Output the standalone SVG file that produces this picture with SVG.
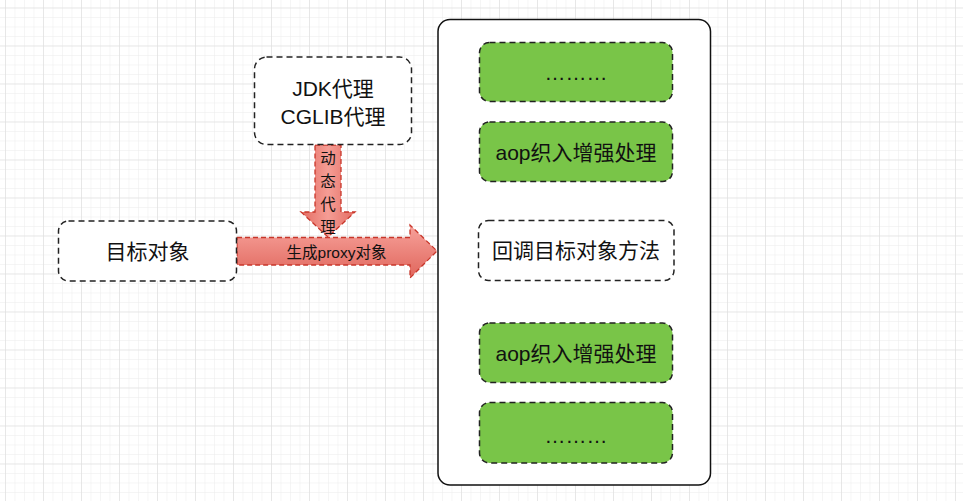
<svg xmlns="http://www.w3.org/2000/svg" width="963" height="501" viewBox="0 0 963 501">
<defs>
<pattern id="minor" x="5" y="7.5" width="9.5" height="9.5" patternUnits="userSpaceOnUse">
<path d="M0 0H9.5M0 0V9.5" fill="none" stroke="#ececec" stroke-width="1"/>
</pattern>
<pattern id="major" x="5" y="7.5" width="38" height="38" patternUnits="userSpaceOnUse">
<path d="M0 0H38M0 0V38" fill="none" stroke="#dadada" stroke-width="1"/>
</pattern>
<linearGradient id="redV" x1="0" y1="0" x2="1" y2="0">
<stop offset="0" stop-color="#e46c62"/>
<stop offset="0.5" stop-color="#f59d95"/>
<stop offset="1" stop-color="#e46c62"/>
</linearGradient>
<linearGradient id="redH" x1="0" y1="0" x2="0" y2="1">
<stop offset="0" stop-color="#f7a29b"/>
<stop offset="1" stop-color="#e0665c"/>
</linearGradient>
</defs>
<style>
.t{font-family:"Liberation Sans","Noto Sans CJK SC",sans-serif;fill:#111;text-anchor:middle;dominant-baseline:central}
.big{font-size:21px}
.small{font-size:15.5px}
.box{fill:#fff;stroke:#222;stroke-width:1.5;stroke-dasharray:6 4}
.green{fill:#79c548;stroke:#222;stroke-width:1.5;stroke-dasharray:6 4}
.arrow{stroke:#c8362a;stroke-width:1.3;stroke-dasharray:5 3}
</style>
<rect width="963" height="501" fill="#fff"/>
<rect width="963" height="501" fill="url(#minor)"/>
<rect width="963" height="501" fill="url(#major)"/>

<g id="container">
<rect x="438" y="19.5" width="272.5" height="465.5" rx="12" fill="#fff" stroke="#111" stroke-width="1.5"/>
</g>

<g id="connectors">
<path class="arrow" fill="url(#redV)" d="M315 145 H341 V212 H355 L328 237 L301 212 H315 Z"/>
<path class="arrow" fill="url(#redH)" d="M237 237.5 H410 V225 L437 251 L410 278 V265 H237 Z"/>
<text class="t small" x="328" y="158">动</text>
<text class="t small" x="328" y="181">态</text>
<text class="t small" x="328" y="204">代</text>
<text class="t small" x="328" y="227">理</text>
<text class="t small" x="336.5" y="252">生成proxy对象</text>
</g>

<g id="target">
<rect class="box" x="58.5" y="221" width="178" height="60" rx="10"/>
<text class="t big" x="147.5" y="251">目标对象</text>
</g>

<g id="proxy">
<rect class="box" x="254.5" y="57" width="157" height="87.5" rx="12"/>
<text class="t big" x="333" y="88">JDK代理</text>
<text class="t big" x="333" y="116">CGLIB代理</text>
</g>

<g id="dots1">
<rect class="green" x="479.5" y="42.5" width="193" height="59" rx="10"/>
<text class="t big" x="576" y="72">………</text>
</g>

<g id="aop1">
<rect class="green" x="479.5" y="122" width="193" height="59.5" rx="10"/>
<text class="t big" x="576" y="152">aop织入增强处理</text>
</g>

<g id="callback">
<rect class="box" x="478.5" y="220.5" width="195.5" height="60" rx="10"/>
<text class="t big" x="576" y="250.5">回调目标对象方法</text>
</g>

<g id="aop2">
<rect class="green" x="479.5" y="323" width="193" height="59.5" rx="10"/>
<text class="t big" x="576" y="353">aop织入增强处理</text>
</g>

<g id="dots2">
<rect class="green" x="479.5" y="402.5" width="193" height="60.5" rx="10"/>
<text class="t big" x="576" y="435">………</text>
</g>
</svg>
